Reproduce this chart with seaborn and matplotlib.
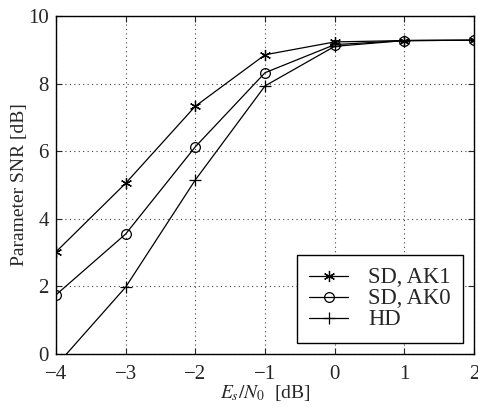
import seaborn as sns
import matplotlib.pyplot as plt

# ---------------------------------------------------------
# Data
# ---------------------------------------------------------
es_n0 = [-4, -3, -2, -1, 0, 1, 2]
sd_ak1 = [3.02, 5.05, 7.33, 8.85, 9.23, 9.27, 9.28]
sd_ak0 = [1.75, 3.55, 6.13, 8.32, 9.15, 9.27, 9.28]
hd = [-0.35, 1.98, 5.15, 7.93, 9.10, 9.27, 9.28]

# asterisk (6 spokes) like the MATLAB '*' marker
series = [("SD, AK1", sd_ak1, (6, 2, 0)), ("SD, AK0", sd_ak0, "o"), ("HD", hd, "+")]

sns.set_style("ticks")
plt.rcParams["font.family"] = ["Liberation Serif", "DejaVu Serif"]
plt.rcParams["mathtext.fontset"] = "stix"

fig = plt.figure(figsize=(4.78, 4.07), dpi=100)
ax = fig.add_axes([0.117, 0.130, 0.875, 0.831])

for name, vals, mk in series:
    sns.lineplot(
        x=es_n0, y=vals, ax=ax, label=name,
        color="black", linewidth=0.9,
        marker=mk, markersize=8 if mk != "o" else 7, markerfacecolor="none",
        markeredgecolor="black", markeredgewidth=0.9,
    )

ax.set_xlim(-4, 2)
ax.set_ylim(0, 10)
ax.set_xticks(range(-4, 3))
ax.set_yticks(range(0, 11, 2))
ax.set_xticklabels(["\u22124", "\u22123", "\u22122", "\u22121", "0", "1", "2"])
ax.tick_params(direction="in", labelsize=15, top=True, right=True, length=4)
ax.tick_params(axis="x", pad=8)
ax.tick_params(axis="y", pad=5)
ax.grid(True, linestyle=(0, (1, 3)), color="0.25", linewidth=0.8)
for s in ax.spines.values():
    s.set_linewidth(1.0)
    s.set_color("black")

ax.set_xlabel(r"$E_s/N_0$  [dB]", fontsize=14, labelpad=-1)
ax.set_ylabel("Parameter SNR [dB]", fontsize=14, labelpad=0)

leg = ax.legend(
    loc="lower right", bbox_to_anchor=(0.974, 0.033),
    fontsize=16.3, frameon=True, fancybox=False, edgecolor="black",
    handlelength=1.7, handletextpad=0.9, labelspacing=0.0,
    borderpad=0.55, borderaxespad=0.0, framealpha=1.0,
)
leg.get_frame().set_linewidth(1.0)

fig.savefig("out.png", dpi=100)
